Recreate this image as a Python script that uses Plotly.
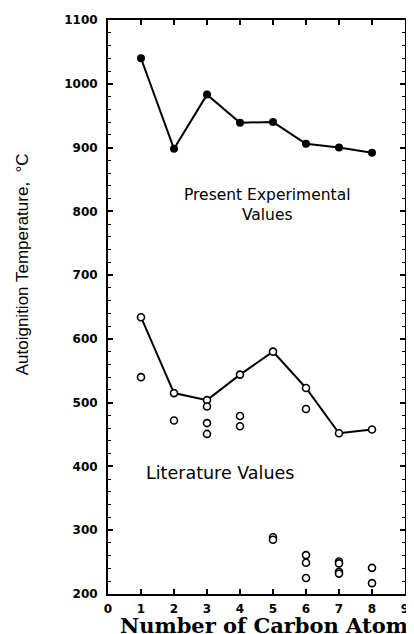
import plotly.graph_objects as go

# Data
carbon_atoms = [1, 2, 3, 4, 5, 6, 7, 8]
present_values = [1040, 898, 983, 939, 940, 906, 900, 892]
literature_line = [634, 515, 504, 544, 580, 523, 452, 458]
lit_extra_x = [1, 2, 3, 3, 3, 4, 4, 5, 5, 6, 6, 6, 6, 7, 7, 7, 7, 8, 8]
lit_extra_y = [540, 472, 494, 468, 451, 479, 463, 289, 285, 490, 261, 249, 225, 251, 248, 235, 232, 241, 217]
x_ticks = [0, 1, 2, 3, 4, 5, 6, 7, 8, 9]
y_ticks = [200, 300, 400, 500, 600, 700, 800, 900, 1000, 1100]

fig = go.Figure()

fig.add_trace(go.Scatter(
    x=carbon_atoms, y=present_values, mode="lines+markers",
    line=dict(color="black", width=2),
    marker=dict(symbol="circle", size=8, color="black"),
    showlegend=False, cliponaxis=False))

fig.add_trace(go.Scatter(
    x=carbon_atoms, y=literature_line, mode="lines+markers",
    line=dict(color="black", width=2),
    marker=dict(symbol="circle", size=7, color="white", line=dict(color="black", width=1.6)),
    showlegend=False, cliponaxis=False))

fig.add_trace(go.Scatter(
    x=lit_extra_x, y=lit_extra_y, mode="markers",
    marker=dict(symbol="circle", size=7, color="white", line=dict(color="black", width=1.6)),
    showlegend=False, cliponaxis=False))

tickfont = dict(family="DejaVu Sans", size=12, color="black", weight="bold")

fig.update_xaxes(
    range=[0, 9], tickvals=x_ticks, ticktext=[str(v) for v in x_ticks],
    showline=True, linecolor="black", linewidth=2, mirror="ticks",
    ticks="inside", ticklen=5, tickwidth=1.5, tickcolor="black",
    showgrid=False, zeroline=False, tickfont=tickfont, ticklabelstandoff=3)

fig.update_yaxes(
    range=[200, 1100], tickvals=y_ticks, ticktext=[str(v) for v in y_ticks],
    showline=True, linecolor="black", linewidth=2, mirror="ticks",
    ticks="inside", ticklen=5, tickwidth=1.5, tickcolor="black",
    minor=dict(dtick=20, ticks="inside", ticklen=3, tickwidth=1, tickcolor="black"),
    showgrid=False, zeroline=False, tickfont=tickfont, ticklabelstandoff=6)

fig.add_annotation(
    text="Present Experimental<br>Values", x=4.83, y=810, xref="x", yref="y",
    showarrow=False, font=dict(family="DejaVu Sans", size=15.5, color="black"),
    align="center", xanchor="center", yanchor="middle")

fig.add_annotation(
    text="Literature Values", x=3.38, y=390, xref="x", yref="y",
    showarrow=False, font=dict(family="DejaVu Sans", size=17.5, color="black"),
    xanchor="center", yanchor="middle")

fig.add_annotation(
    text="Autoignition Temperature,  °C", textangle=-90,
    x=-0.285, y=0.575, xref="paper", yref="paper",
    showarrow=False, font=dict(family="Liberation Sans Narrow, Liberation Sans, sans-serif", size=17, color="black"),
    xanchor="center", yanchor="middle")

fig.add_annotation(
    text="Number of Carbon Atoms", x=0.033, y=-0.055, xref="paper", yref="paper",
    showarrow=False, font=dict(family="DejaVu Serif", size=21, color="black", weight="bold"),
    xanchor="left", yanchor="middle")

fig.update_layout(
    width=406, height=626,
    margin=dict(l=100, r=5, t=11, b=40),
    paper_bgcolor="white", plot_bgcolor="white")

fig.write_html("out.html")
